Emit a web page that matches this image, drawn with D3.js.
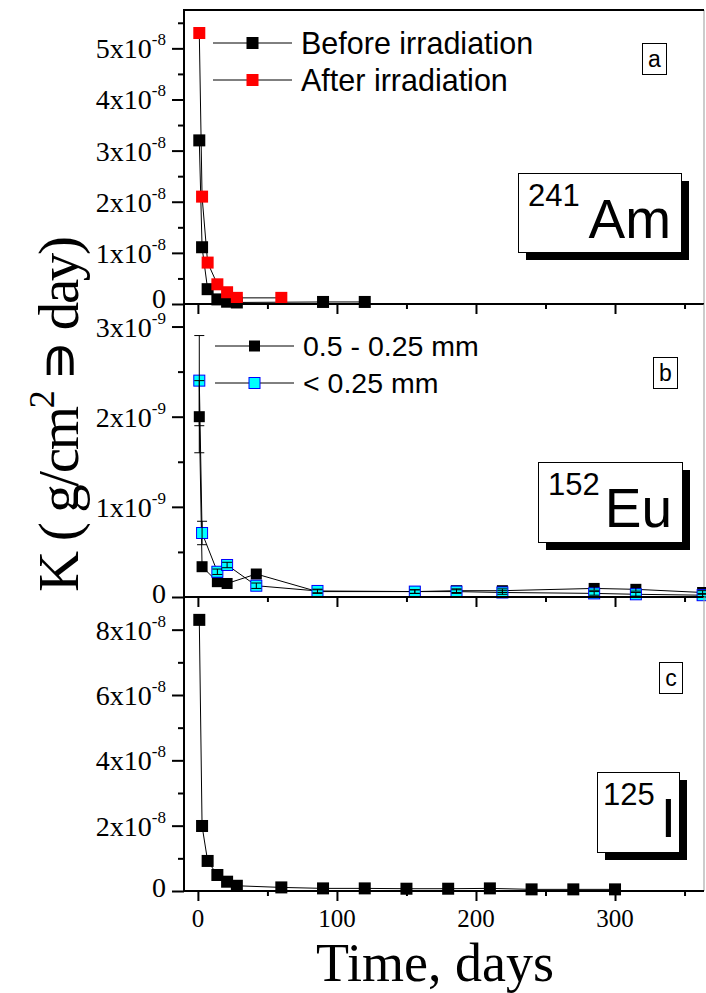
<!DOCTYPE html>
<html>
<head>
<meta charset="utf-8">
<script src="https://cdn.jsdelivr.net/npm/d3@7"></script>
<style>
  body { margin: 0; background: #fff; }
  svg { display: block; }
</style>
</head>
<body>
<div id="chart"></div>
<script>
// ---- data ----
var xMajor = [0, 100, 200, 300];
var xMinor = [50, 150, 250, 350];

// panel a : 241Am, K in 1e-8 units
var amDaysBefore = [1, 3, 7, 14, 21, 28, 90, 120];
var amBefore = [3.2, 1.11, 0.29, 0.09, 0.045, 0.03, 0.04, 0.04];
var amDaysAfter = [1, 3, 7, 14, 21, 28, 60];
var amAfter = [5.3, 2.1, 0.81, 0.385, 0.23, 0.12, 0.12];

// panel b : 152Eu, K in 1e-9 units
var euDays = [1, 3, 14, 21, 42, 86, 156, 186, 219, 285, 315, 363];
var euCoarse = [2.0, 0.336, 0.17, 0.15, 0.255, 0.06, 0.06, 0.07, 0.07, 0.095, 0.085, 0.05];
var euCoarseErr = [0.4, 0.04, 0.02, 0.02, 0.03, 0.02, 0.02, 0.02, 0.02, 0.02, 0.02, 0.02];
var euFine = [2.4, 0.71, 0.28, 0.355, 0.125, 0.067, 0.06, 0.06, 0.05, 0.04, 0.03, 0.02];
var euFineErr = [0.5, 0.13, 0.03, 0.03, 0.03, 0.02, 0.02, 0.02, 0.02, 0.02, 0.02, 0.02];

// panel c : 125I, K in 1e-8 units
var iDays = [1, 3, 7, 14, 21, 28, 60, 90, 120, 150, 180, 210, 240, 270, 300];
var iVals = [8.3, 1.99, 0.92, 0.49, 0.285, 0.16, 0.11, 0.08, 0.08, 0.07, 0.07, 0.08, 0.05, 0.05, 0.05];

// y tick values per panel (same units as above)
var amTicks = [0, 1, 2, 3, 4, 5];
var amMinor = [0.5, 1.5, 2.5, 3.5, 4.5, 5.5];
var euTicks = [0, 1, 2, 3];
var euMinor = [0.5, 1.5, 2.5];
var iTicks = [0, 2, 4, 6, 8];
var iMinor = [1, 3, 5, 7];

// ---- layout ----
var W = 706, H = 993;
var left = 184, right = 704;
var serif = "'Liberation Serif', 'Times New Roman', serif";
var sans = "'Liberation Sans', Arial, sans-serif";

var svg = d3.select('#chart').append('svg')
  .attr('width', W)
  .attr('height', H);

var x = d3.scaleLinear().domain([-10, 364]).range([left, right]);

var panels = [
  { top: 10, bottom: 304, max: 5.75, exp: '-8', ticks: amTicks, minor: amMinor,
    tag: 'a', tagBox: [642, 43, 24, 31],
    iso: '241', el: 'Am', isoBox: [518, 173, 163, 79], isoPad: 10, elPad: 10 },
  { top: 304, bottom: 597, max: 3.25, exp: '-9', ticks: euTicks, minor: euMinor,
    tag: 'b', tagBox: [653, 357, 24, 31],
    iso: '152', el: 'Eu', isoBox: [538, 462, 144, 80], isoPad: 10, elPad: 10 },
  { top: 597, bottom: 891, max: 9, exp: '-8', ticks: iTicks, minor: iMinor,
    tag: 'c', tagBox: [659, 662, 23, 31],
    iso: '125', el: 'I', isoBox: [597, 772, 82, 80], isoPad: 6, elPad: 3 }
];

panels.forEach(function(p) {
  p.y = d3.scaleLinear().domain([0, p.max]).range([p.bottom, p.top]);
});

// zip days + values
function pts(days, vals, errs) {
  return days.map(function(d, i) {
    return { x: d, y: vals[i], e: errs ? errs[i] : 0 };
  });
}

var line = function(y) {
  return d3.line().x(function(d) { return x(d.x); }).y(function(d) { return y(d.y); });
};

function drawSeries(g, y, data, fill, stroke, size) {
  g.append('path')
    .datum(data)
    .attr('d', line(y))
    .attr('fill', 'none')
    .attr('stroke', '#000')
    .attr('stroke-width', 1);
  g.selectAll(null).data(data).enter().append('rect')
    .attr('x', function(d) { return x(d.x) - size / 2; })
    .attr('y', function(d) { return y(d.y) - size / 2; })
    .attr('width', size)
    .attr('height', size)
    .attr('fill', fill)
    .attr('stroke', stroke)
    .attr('stroke-width', stroke === 'none' ? 0 : 1);
}

function drawErrors(g, y, data) {
  var cap = 5;
  var eb = g.selectAll(null).data(data).enter().append('g')
    .attr('stroke', '#000')
    .attr('stroke-width', 1);
  eb.append('line')
    .attr('x1', function(d) { return x(d.x); })
    .attr('x2', function(d) { return x(d.x); })
    .attr('y1', function(d) { return y(d.y + d.e); })
    .attr('y2', function(d) { return y(d.y - d.e); });
  eb.append('line')
    .attr('x1', function(d) { return x(d.x) - cap; })
    .attr('x2', function(d) { return x(d.x) + cap; })
    .attr('y1', function(d) { return y(d.y + d.e); })
    .attr('y2', function(d) { return y(d.y + d.e); });
  eb.append('line')
    .attr('x1', function(d) { return x(d.x) - cap; })
    .attr('x2', function(d) { return x(d.x) + cap; })
    .attr('y1', function(d) { return y(d.y - d.e); })
    .attr('y2', function(d) { return y(d.y - d.e); });
}

function legend(g, x0, y0, label, fill, stroke, size, fs) {
  g.append('line')
    .attr('x1', x0).attr('x2', x0 + 79)
    .attr('y1', y0).attr('y2', y0)
    .attr('stroke', '#000').attr('stroke-width', 1);
  g.append('rect')
    .attr('x', x0 + 39.5 - size / 2).attr('y', y0 - size / 2)
    .attr('width', size).attr('height', size)
    .attr('fill', fill)
    .attr('stroke', stroke)
    .attr('stroke-width', stroke === 'none' ? 0 : 1);
  g.append('text')
    .attr('x', x0 + 88).attr('y', y0 + fs * 0.36)
    .attr('font-family', sans)
    .attr('font-size', fs)
    .text(label);
}

// ---- panels ----
panels.forEach(function(p, pi) {
  var g = svg.append('g');
  var y = p.y;

  // right border (thin grey)
  g.append('line')
    .attr('x1', right).attr('x2', right)
    .attr('y1', p.top).attr('y2', p.bottom)
    .attr('stroke', '#999').attr('stroke-width', 1);

  // left axis with outward ticks
  var yAxis = d3.axisLeft(y).tickValues(p.ticks).tickSize(12).tickFormat('');
  var yAxisMinor = d3.axisLeft(y).tickValues(p.minor).tickSize(6).tickFormat('');
  g.append('g').attr('transform', 'translate(' + left + ',0)').call(yAxis)
    .call(function(s) { s.select('.domain').remove(); })
    .selectAll('line').attr('stroke-width', 2);
  g.append('g').attr('transform', 'translate(' + left + ',0)').call(yAxisMinor)
    .call(function(s) { s.select('.domain').remove(); })
    .selectAll('line').attr('stroke-width', 2);

  // y tick labels like 5x10^-8
  p.ticks.forEach(function(t) {
    var txt = g.append('text')
      .attr('x', 166)
      .attr('y', y(t) + 10)
      .attr('text-anchor', 'end')
      .attr('font-family', serif)
      .attr('font-size', 28);
    if (t === 0) {
      txt.attr('y', y(t) + (pi === 0 ? 4 : 6)).text('0');
    } else {
      txt.append('tspan').text(t + 'x10');
      txt.append('tspan').attr('dy', -13).attr('font-size', 17).text(p.exp);
    }
  });

  // bottom axis with outward ticks
  var xAxis = d3.axisBottom(x).tickValues(xMajor).tickSize(10).tickFormat('');
  var xAxisMinor = d3.axisBottom(x).tickValues(xMinor).tickSize(5).tickFormat('');
  g.append('g').attr('transform', 'translate(0,' + p.bottom + ')').call(xAxis)
    .call(function(s) { s.select('.domain').remove(); })
    .selectAll('line').attr('stroke-width', 2);
  g.append('g').attr('transform', 'translate(0,' + p.bottom + ')').call(xAxisMinor)
    .call(function(s) { s.select('.domain').remove(); })
    .selectAll('line').attr('stroke-width', 2);

  // data
  if (pi === 0) {
    drawSeries(g, y, pts(amDaysBefore, amBefore), '#000', 'none', 12);
    drawSeries(g, y, pts(amDaysAfter, amAfter), '#ff0000', 'none', 12);
    legend(g, 213, 43, 'Before irradiation', '#000', 'none', 12, 30.5);
    legend(g, 213, 80, 'After irradiation', '#ff0000', 'none', 12, 30.5);
  } else if (pi === 1) {
    var coarse = pts(euDays, euCoarse, euCoarseErr);
    var fine = pts(euDays, euFine, euFineErr);
    drawSeries(g, y, coarse, '#000', 'none', 11);
    drawSeries(g, y, fine, '#00ffff', '#0000ff', 11);
    drawErrors(g, y, coarse);
    drawErrors(g, y, fine);
    legend(g, 215, 346, '0.5 - 0.25 mm', '#000', 'none', 11, 28.5);
    legend(g, 215, 383, '< 0.25 mm', '#00ffff', '#0000ff', 11, 28.5);
  } else {
    drawSeries(g, y, pts(iDays, iVals), '#000', 'none', 12);
  }

  // axis lines
  g.append('line')
    .attr('x1', left).attr('x2', left)
    .attr('y1', p.top).attr('y2', p.bottom)
    .attr('stroke', '#000').attr('stroke-width', 2);
  g.append('line')
    .attr('x1', left - 1).attr('x2', right)
    .attr('y1', p.bottom).attr('y2', p.bottom)
    .attr('stroke', '#000').attr('stroke-width', 2);
  if (pi === 0) {
    g.append('line')
      .attr('x1', left - 1).attr('x2', right)
      .attr('y1', p.top).attr('y2', p.top)
      .attr('stroke', '#000').attr('stroke-width', 2);
  }

  // small panel letter box
  var tb = p.tagBox;
  g.append('rect')
    .attr('x', tb[0] + 0.5).attr('y', tb[1] + 0.5)
    .attr('width', tb[2]).attr('height', tb[3])
    .attr('fill', '#fff').attr('stroke', '#000').attr('stroke-width', 1);
  g.append('text')
    .attr('x', tb[0] + tb[2] / 2 + 0.5).attr('y', tb[1] + tb[3] / 2 + 8)
    .attr('text-anchor', 'middle')
    .attr('font-family', sans)
    .attr('font-size', 23)
    .text(p.tag);

  // isotope box with shadow
  var ib = p.isoBox;
  g.append('rect')
    .attr('x', ib[0] + 8).attr('y', ib[1] + 8)
    .attr('width', ib[2]).attr('height', ib[3])
    .attr('fill', '#000');
  g.append('rect')
    .attr('x', ib[0] + 0.5).attr('y', ib[1] + 0.5)
    .attr('width', ib[2]).attr('height', ib[3])
    .attr('fill', '#fff').attr('stroke', '#000').attr('stroke-width', 1);
  g.append('text')
    .attr('x', ib[0] + p.isoPad).attr('y', ib[1] + 33)
    .attr('font-family', sans)
    .attr('font-size', 31)
    .text(p.iso);
  g.append('text')
    .attr('x', ib[0] + ib[2] - p.elPad).attr('y', ib[1] + 65)
    .attr('text-anchor', 'end')
    .attr('font-family', sans)
    .attr('font-size', 55)
    .text(p.el);
});

// x tick labels under the last panel
svg.append('g').selectAll('text').data(xMajor).enter().append('text')
  .attr('x', function(d) { return x(d); })
  .attr('y', 927)
  .attr('text-anchor', 'middle')
  .attr('font-family', serif)
  .attr('font-size', 25)
  .text(function(d) { return d; });

// axis titles
svg.append('text')
  .attr('x', 435).attr('y', 981)
  .attr('text-anchor', 'middle')
  .attr('font-family', serif)
  .attr('font-size', 54)
  .text('Time, days');

var yt = svg.append('text')
  .attr('transform', 'translate(78,414) rotate(-90)')
  .attr('text-anchor', 'middle')
  .attr('font-family', serif)
  .attr('font-size', 57)
  .attr('textLength', 356)
  .attr('lengthAdjust', 'spacing');
yt.append('tspan').text('K ( g/cm');
yt.append('tspan').attr('dy', -24).attr('font-size', 36).text('2');
yt.append('tspan').attr('dy', 24).text(' \u220D day)');
</script>
</body>
</html>
